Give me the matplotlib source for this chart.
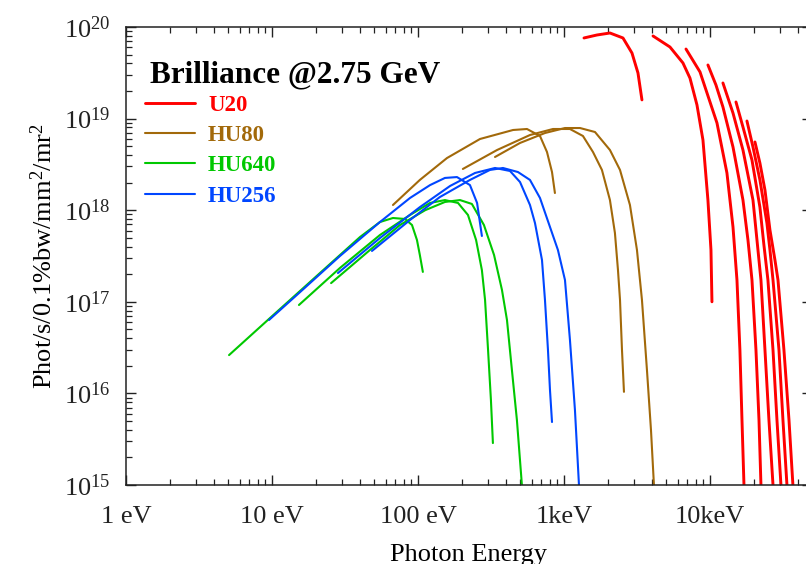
import matplotlib
matplotlib.use("Agg")
import matplotlib.pyplot as plt
from matplotlib.ticker import LogLocator, FixedLocator, FixedFormatter, NullFormatter

plt.rcParams['font.family'] = ['Liberation Serif', 'DejaVu Serif']
plt.rcParams['mathtext.fontset'] = 'custom'
plt.rcParams['mathtext.rm'] = 'Liberation Serif'
plt.rcParams['mathtext.it'] = 'Liberation Serif:italic'
plt.rcParams['mathtext.bf'] = 'Liberation Serif:bold'

# ---------------- data (photon energy in eV, brilliance) ----------------
# U20 harmonics
u20_E = [
    [1371, 1683, 2065, 2536, 2923, 3213, 3421],
    [4074, 5321, 6531, 7295, 8147, 8954, 9685, 10160, 10320],
    [6851, 8548, 11170, 13070, 14380, 15310, 16040, 16570, 17100],
    [9685, 10990, 12270, 14380, 16830, 18210, 19400, 20660, 21670, 22350],
    [12270, 14380, 16830, 19710, 20990, 22350, 23810, 25350, 27030],
    [15070, 16830, 19400, 21990, 23420, 24950, 27030, 28770, 30640],
    [17920, 19710, 21990, 24550, 25760, 27030, 29700, 31620, 33680],
    [20330, 21990, 23810, 25760, 27870, 29240, 32120, 34780, 37000],
]
u20_B = [
    [7.59e19, 8.18e19, 8.60e19, 7.59e19, 5.20e19, 3.15e19, 1.60e19],
    [7.98e19, 6.05e19, 4.05e19, 2.77e19, 1.41e19, 5.84e18, 1.29e18, 3.68e17, 1.00e17],
    [5.75e19, 3.23e19, 8.96e18, 2.55e18, 6.56e17, 1.73e17, 2.98e16, 5.13e15, 1.0e15],
    [3.85e19, 2.33e19, 1.34e19, 4.90e18, 1.29e18, 4.73e17, 1.73e17, 2.98e16, 5.13e15, 1.0e15],
    [2.45e19, 1.15e19, 4.54e18, 1.29e18, 4.73e17, 1.73e17, 2.98e16, 5.13e15, 1.0e15],
    [1.52e19, 8.09e18, 3.53e18, 1.08e18, 4.17e17, 1.73e17, 2.98e16, 5.13e15, 1.0e15],
    [9.42e18, 4.90e18, 2.14e18, 7.25e17, 3.68e17, 1.73e17, 2.98e16, 5.13e15, 1.0e15],
    [5.56e18, 3.27e18, 1.66e18, 6.08e17, 2.86e17, 1.73e17, 2.98e16, 5.13e15, 1.0e15],
]

# HU80 harmonics
hu80_E = [
    [67.4, 103, 158, 266, 448, 558, 685, 765, 828, 867],
    [203, 348, 585, 841, 1099, 1349, 1580, 1820, 2065, 2234, 2344, 2420, 2497, 2576],
    [337, 500, 741, 1016, 1288, 1631, 2065, 2420, 2831, 3162, 3421, 3702, 3945, 4133],
]
hu80_B = [
    [1.14e18, 2.14e18, 3.71e18, 5.99e18, 7.51e18, 7.70e18, 6.46e18, 4.32e18, 2.61e18, 1.54e18],
    [2.82e18, 4.54e18, 6.62e18, 7.70e18, 7.70e18, 6.46e18, 4.32e18, 2.75e18, 1.29e18, 5.64e17,
     2.22e17, 1.05e17, 2.98e16, 1.04e16],
    [3.81e18, 5.42e18, 6.96e18, 7.89e18, 7.89e18, 7.14e18, 4.54e18, 2.75e18, 1.14e18, 3.68e17,
     1.05e17, 1.80e16, 3.98e15, 1.0e15],
]

# HU640 harmonics
hu640_E = [
    [5.08, 9.69, 21.3, 40.1, 54.9, 67.4, 81.5, 91.0, 98.4, 103, 108],
    [15.3, 29.2, 54.9, 88.2, 121, 153, 188, 220, 250, 274, 288, 302, 316, 326],
    [25.4, 46.9, 75.3, 112, 153, 194, 234, 283, 332, 376, 407, 440, 476, 515],
]
hu640_B = [
    [2.62e16, 6.65e16, 2.06e17, 5.10e17, 7.43e17, 8.22e17, 8.02e17, 6.89e17, 4.73e17, 3.24e17, 2.12e17],
    [9.23e16, 2.34e17, 5.36e17, 8.87e17, 1.20e18, 1.29e18, 1.20e18, 8.87e17, 4.73e17, 2.22e17,
     1.05e17, 2.98e16, 8.47e15, 2.87e15],
    [1.60e17, 3.68e17, 6.89e17, 1.00e18, 1.23e18, 1.29e18, 1.17e18, 6.89e17, 3.24e17, 1.35e17,
     6.33e16, 1.80e16, 5.13e15, 1.0e15],
]

# HU256 harmonics
hu256_E = [
    [9.54, 15.6, 29.2, 54.9, 88.2, 121, 153, 185, 227, 254, 266, 274],
    [28.3, 54.9, 103, 166, 246, 337, 427, 500, 585, 633, 707, 741, 777, 802, 828],
    [48.4, 88.2, 141, 227, 311, 382, 484, 585, 685, 802, 909, 1016, 1099, 1189, 1267],
]
hu256_B = [
    [6.33e16, 1.28e17, 3.16e17, 7.43e17, 1.36e18, 1.88e18, 2.25e18, 2.30e18, 1.88e18, 1.20e18,
     7.25e17, 5.23e17],
    [2.06e17, 4.97e17, 1.08e18, 1.84e18, 2.55e18, 2.89e18, 2.68e18, 2.03e18, 1.14e18, 7.25e17,
     2.86e17, 1.05e17, 2.98e16, 1.09e16, 4.87e15],
    [3.59e17, 7.82e17, 1.39e18, 2.14e18, 2.75e18, 2.89e18, 2.61e18, 2.14e18, 1.36e18, 6.56e17,
     3.68e17, 1.73e17, 3.83e16, 6.59e15, 1.0e15],
]

series_names = ['U20', 'HU80', 'HU640', 'HU256']
series_colors = ['#ff0000', '#a2690a', '#00c800', '#0046ff']

x_tick_vals = [1, 10, 100, 1000, 10000]
x_tick_labels = ['1 eV', '10 eV', '100 eV', '1keV', '10keV']
y_tick_vals = [1e15, 1e16, 1e17, 1e18, 1e19, 1e20]
y_tick_labels = [r'$\mathregular{10^{%d}}$' % p for p in range(15, 21)]

# ---------------- figure ----------------
W, H = 806, 564
fig = plt.figure(figsize=(W / 100, H / 100), dpi=100)
L, R, T, B = 126, 812, 27, 485
ax = fig.add_axes([L / W, (H - B) / H, (R - L) / W, (B - T) / H])

all_E = [u20_E, hu80_E, hu640_E, hu256_E]
all_B = [u20_B, hu80_B, hu640_B, hu256_B]
widths = [2.1, 1.5, 1.5, 1.5]
handles = []
for name, col, Es, Bs, lw in zip(series_names, series_colors, all_E, all_B, widths):
    for i, (e, b) in enumerate(zip(Es, Bs)):
        ln, = ax.plot(e, b, color=col, lw=lw, solid_capstyle='round',
                      solid_joinstyle='round',
                      label=name if i == 0 else None, clip_on=True)
        if i == 0:
            handles.append(ln)

ax.set_xscale('log')
ax.set_yscale('log')
ax.set_xlim(1, 5e4)
ax.set_ylim(1e15, 1e20)

ax.xaxis.set_major_locator(FixedLocator(x_tick_vals))
ax.xaxis.set_major_formatter(FixedFormatter(x_tick_labels))
ax.yaxis.set_major_locator(FixedLocator(y_tick_vals))
ax.yaxis.set_major_formatter(FixedFormatter(y_tick_labels))
ax.xaxis.set_minor_locator(LogLocator(base=10, subs=range(2, 10), numticks=20))
ax.yaxis.set_minor_locator(LogLocator(base=10, subs=range(2, 10), numticks=20))
ax.xaxis.set_minor_formatter(NullFormatter())
ax.yaxis.set_minor_formatter(NullFormatter())

ax.tick_params(which='both', direction='in', top=True, right=True, colors='#222222')
ax.tick_params(which='major', length=7.5, width=1.0, labelsize=19, pad=11)
ax.tick_params(which='minor', length=4, width=0.9)
ax.tick_params(axis='x', which='major', pad=15)
for s in ax.spines.values():
    s.set_linewidth(1.1)
    s.set_color('#222222')

ax.set_xlabel('Photon Energy', fontsize=19)
ax.xaxis.set_label_coords(0.5, -0.128)
ax.set_ylabel(r'Phot/s/0.1%bw/mm$\mathregular{^2}$/mr$\mathregular{^2}$', fontsize=19)
ax.yaxis.set_label_coords(-0.101, 0.5)

fig.text(150 / W, 1 - 82 / H, 'Brilliance @2.75 GeV', fontsize=22.5, fontweight='bold',
         va='baseline', ha='left')

leg = ax.legend(handles=handles, loc='upper left',
                bbox_to_anchor=(145 / W, 1 - 95 / H), bbox_transform=fig.transFigure,
                frameon=False, borderpad=0, borderaxespad=0, handlelength=2.2,
                handletextpad=0.55, labelspacing=0.4,
                prop={'family': 'Liberation Serif', 'weight': 'bold', 'size': 16.5})
for txt, col in zip(leg.get_texts(), series_colors):
    txt.set_color(col)

fig.savefig('out.png', dpi=100)
